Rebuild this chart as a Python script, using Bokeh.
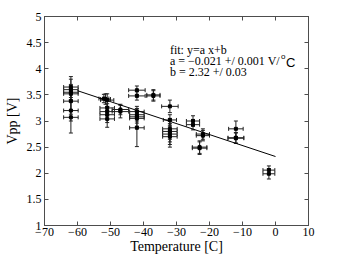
from bokeh.plotting import figure
from bokeh.models import ColumnDataSource, Whisker, TeeHead, LinearAxis, FixedTicker, Label
from bokeh.embed import file_html
from bokeh.resources import INLINE

# ---- data ----
temp = [-62, -62, -62, -62, -62, -62, -62,
        -52, -51.5, -51, -51, -51, -51, -51,
        -47, -47,
        -42, -42, -42, -42, -42, -42, -42,
        -37, -37,
        -32, -32, -32, -32, -32, -32,
        -25, -25,
        -22, -22,
        -23, -23,
        -12, -12, -12,
        -2, -2]
vpp = [3.65, 3.60, 3.55, 3.52, 3.38, 3.20, 3.07,
       3.43, 3.42, 3.40, 3.25, 3.18, 3.12, 3.04,
       3.22, 3.18,
       3.59, 3.48, 3.18, 3.12, 3.08, 3.05, 2.87,
       3.50, 3.48,
       3.28, 3.02, 2.85, 2.80, 2.75, 2.70,
       3.00, 2.93,
       2.75, 2.72,
       2.50, 2.48,
       2.85, 2.68, 2.67,
       2.06, 1.99]
temp_err = [2.2, 2.2, 2.2, 2.2, 2.2, 2.2, 2.2,
            1.5, 1.5, 2.0, 2.2, 2.2, 2.2, 2.2,
            2.5, 2.5,
            2.5, 2.5, 2.2, 2.2, 2.2, 2.2, 2.2,
            2.0, 2.0,
            2.5, 2.0, 2.2, 2.2, 2.2, 2.2,
            2.0, 2.0,
            2.0, 2.0,
            2.2, 2.2,
            2.2, 2.4, 2.4,
            1.8, 1.8]
vpp_err = [0.20, 0.20, 0.15, 0.15, 0.25, 0.20, 0.30,
           0.08, 0.10, 0.12, 0.15, 0.15, 0.15, 0.16,
           0.10, 0.12,
           0.08, 0.08, 0.10, 0.12, 0.12, 0.15, 0.36,
           0.10, 0.10,
           0.12, 0.10, 0.20, 0.20, 0.20, 0.20,
           0.10, 0.10,
           0.10, 0.10,
           0.12, 0.12,
           0.15, 0.10, 0.10,
           0.08, 0.10]

fit_x = [-60, 0]
fit_y = [3.58, 2.32]

x_ticks = [-70, -60, -50, -40, -30, -20, -10, 0, 10]
x_tick_labels = ["\u221270", "\u221260", "\u221250", "\u221240", "\u221230",
                 "\u221220", "\u221210", "0", "10"]
y_ticks = [1, 1.5, 2, 2.5, 3, 3.5, 4, 4.5, 5]
y_tick_labels = ["1", "1.5", "2", "2.5", "3", "3.5", "4", "4.5", "5"]

fit_lines = ["fit: y=a x+b", "a = \u22120.021 +/ 0.001 V/", "b = 2.32 +/ 0.03"]

SERIF = "Liberation Serif"
SANS = "Liberation Sans"
AX = "#4d4d4d"
EB = "#222222"

src = ColumnDataSource(dict(
    t=temp, v=vpp,
    tlo=[a - b for a, b in zip(temp, temp_err)],
    thi=[a + b for a, b in zip(temp, temp_err)],
    vlo=[a - b for a, b in zip(vpp, vpp_err)],
    vhi=[a + b for a, b in zip(vpp, vpp_err)],
))

p = figure(frame_width=264, frame_height=209, x_range=(-70, 10), y_range=(1, 5),
           output_backend="svg", toolbar_location=None,
           min_border_left=44, min_border_top=16, min_border_right=12,
           min_border_bottom=20)
p.grid.visible = False
p.outline_line_color = AX
p.background_fill_color = "white"
p.border_fill_color = "white"

def style_axis(ax):
    ax.major_tick_in = 4
    ax.major_tick_out = 0
    ax.minor_tick_line_color = None
    ax.axis_line_color = AX
    ax.major_tick_line_color = AX
    ax.major_label_text_font = SERIF
    ax.major_label_text_color = "black"
    ax.axis_label_text_font = SERIF
    ax.axis_label_text_font_style = "normal"
    ax.axis_label_text_color = "black"

xd = {t: l for t, l in zip(x_ticks, x_tick_labels)}
yd = {t: l for t, l in zip(y_ticks, y_tick_labels)}

xa = p.xaxis[0]
xa.ticker = FixedTicker(ticks=x_ticks)
xa.major_label_overrides = xd
xa.axis_label = "Temperature [C]"
style_axis(xa)
xa.major_label_text_font_size = "12px"
xa.axis_label_text_font_size = "14px"
xa.major_label_standoff = 2
xa.axis_label_standoff = 0

ya = p.yaxis[0]
ya.ticker = FixedTicker(ticks=y_ticks)
ya.major_label_overrides = yd
ya.axis_label = "Vpp [V]"
style_axis(ya)
ya.major_label_text_font_size = "12px"
ya.axis_label_text_font_size = "14px"
ya.major_label_standoff = 3
ya.axis_label_standoff = 4

# tick-only axes on the right and top (labels blanked)
ra = LinearAxis(ticker=FixedTicker(ticks=y_ticks),
                major_label_overrides={t: "" for t in y_ticks})
style_axis(ra)
ra.major_label_standoff = 0
p.add_layout(ra, "right")
ta = LinearAxis(ticker=FixedTicker(ticks=x_ticks),
                major_label_overrides={t: "" for t in x_ticks})
style_axis(ta)
ta.major_label_standoff = 0
p.add_layout(ta, "above")

# error bars: horizontal (temperature) and vertical (Vpp)
p.add_layout(Whisker(source=src, base="v", lower="tlo", upper="thi", dimension="width",
                     line_color=EB, line_width=1,
                     lower_head=TeeHead(size=4, line_color=EB, line_width=1),
                     upper_head=TeeHead(size=4, line_color=EB, line_width=1)))
p.add_layout(Whisker(source=src, base="t", lower="vlo", upper="vhi", dimension="height",
                     line_color=EB, line_width=1,
                     lower_head=TeeHead(size=4, line_color=EB, line_width=1),
                     upper_head=TeeHead(size=4, line_color=EB, line_width=1)))
p.scatter("t", "v", source=src, marker="square", size=3, color="black")

p.line(fit_x, fit_y, line_color="black", line_width=1)

ys = [4.35, 4.14, 3.93]
for txt, yy in zip(fit_lines, ys):
    p.add_layout(Label(x=-32, y=yy, text=txt, text_font=SERIF, text_font_size="12px",
                       text_baseline="middle", text_color="black"))
p.add_layout(Label(x=-32, y=4.14, x_offset=111, y_offset=5, text="o", text_font=SANS,
                   text_font_size="8px", text_baseline="middle", text_color="black"))
p.add_layout(Label(x=-32, y=4.14, x_offset=116, y_offset=-1, text="C", text_font=SANS,
                   text_font_size="13px", text_baseline="middle", text_color="black"))

open("out.html", "w").write(file_html(p, INLINE))
